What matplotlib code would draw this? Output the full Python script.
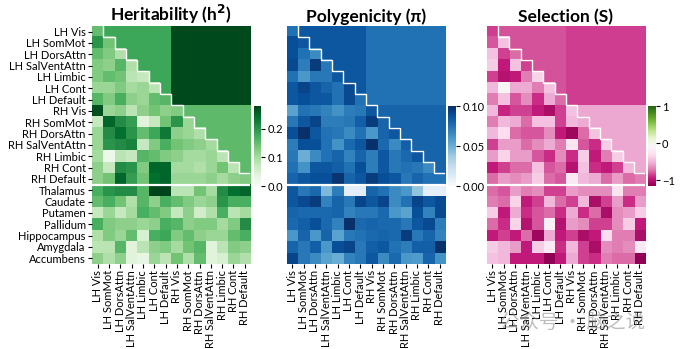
import matplotlib
matplotlib.use("Agg")
import matplotlib.pyplot as plt
import numpy as np

plt.rcParams['font.family'] = ['Lato', 'DejaVu Sans']

# ---- labels ----
cortex = ['LH Vis', 'LH SomMot', 'LH DorsAttn', 'LH SalVentAttn', 'LH Limbic', 'LH Cont', 'LH Default',
          'RH Vis', 'RH SomMot', 'RH DorsAttn', 'RH SalVentAttn', 'RH Limbic', 'RH Cont', 'RH Default']
subcortex = ['Thalamus', 'Caudate', 'Putamen', 'Pallidum', 'Hippocampus', 'Amygdala', 'Accumbens']
row_labels = cortex + subcortex

# ---- heritability (h2) ----
h2_blocks = {'LL': 0.18, 'LR': 0.275, 'RR': 0.155}
h2_cortex = [
    [0.15],
    [0.20, 0.14],
    [0.15, 0.13, 0.09],
    [0.13, 0.12, 0.16, 0.09],
    [0.13, 0.15, 0.14, 0.08, 0.07],
    [0.11, 0.11, 0.13, 0.10, 0.11, 0.08],
    [0.16, 0.13, 0.17, 0.12, 0.11, 0.15, 0.16],
    [0.27, 0.11, 0.12, 0.08, 0.12, 0.14, 0.12, 0.13],
    [0.07, 0.25, 0.21, 0.19, 0.04, 0.07, 0.14, 0.20, 0.11],
    [0.11, 0.21, 0.24, 0.20, 0.15, 0.18, 0.23, 0.12, 0.11, 0.09],
    [0.11, 0.20, 0.21, 0.22, 0.07, 0.13, 0.17, 0.14, 0.13, 0.12, 0.10],
    [0.10, 0.02, 0.08, 0.07, 0.16, 0.15, 0.13, 0.12, 0.10, 0.10, 0.11, 0.08],
    [0.12, 0.07, 0.21, 0.20, 0.13, 0.25, 0.25, 0.10, 0.10, 0.09, 0.11, 0.14, 0.08],
    [0.12, 0.14, 0.25, 0.19, 0.14, 0.24, 0.25, 0.11, 0.11, 0.11, 0.12, 0.10, 0.12, 0.13],
]
h2_sub = [
    [0.17, 0.20, 0.21, 0.21, 0.16, 0.28, 0.28, 0.08, 0.08, 0.14, 0.10, 0.21, 0.24, 0.25],
    [0.15, 0.17, 0.14, 0.09, 0.16, 0.12, 0.17, 0.15, 0.13, 0.11, 0.12, 0.20, 0.17, 0.17],
    [0.07, 0.11, 0.07, 0.10, 0.17, 0.15, 0.13, 0.07, 0.12, 0.06, 0.09, 0.17, 0.08, 0.10],
    [0.17, 0.13, 0.12, 0.12, 0.11, 0.12, 0.17, 0.16, 0.12, 0.13, 0.13, 0.10, 0.13, 0.21],
    [0.09, 0.13, 0.11, 0.15, 0.05, 0.17, 0.18, 0.13, 0.15, 0.12, 0.11, 0.11, 0.15, 0.17],
    [0.08, 0.08, 0.16, 0.04, 0.08, 0.12, 0.13, 0.10, 0.14, 0.16, 0.04, 0.08, 0.13, 0.12],
    [0.12, 0.09, 0.12, 0.04, 0.03, 0.11, 0.08, 0.14, 0.09, 0.15, 0.04, 0.05, 0.11, 0.09],
]

# ---- polygenicity (pi) ----
pi_blocks = {'LL': 0.085, 'LR': 0.075, 'RR': 0.080}
pi_cortex = [
    [0.075],
    [0.088, 0.085],
    [0.088, 0.075, 0.065],
    [0.090, 0.070, 0.095, 0.072],
    [0.075, 0.060, 0.072, 0.072, 0.085],
    [0.085, 0.092, 0.085, 0.080, 0.075, 0.090],
    [0.085, 0.088, 0.085, 0.085, 0.075, 0.090, 0.075],
    [0.055, 0.075, 0.072, 0.068, 0.062, 0.070, 0.072, 0.085],
    [0.072, 0.085, 0.092, 0.070, 0.070, 0.072, 0.082, 0.095, 0.080],
    [0.088, 0.100, 0.085, 0.075, 0.072, 0.065, 0.075, 0.060, 0.080, 0.085],
    [0.070, 0.088, 0.088, 0.075, 0.062, 0.078, 0.085, 0.100, 0.078, 0.065, 0.082],
    [0.072, 0.050, 0.065, 0.075, 0.080, 0.068, 0.080, 0.070, 0.085, 0.072, 0.078, 0.085],
    [0.075, 0.062, 0.085, 0.085, 0.082, 0.075, 0.088, 0.070, 0.085, 0.072, 0.075, 0.072, 0.065],
    [0.080, 0.085, 0.088, 0.088, 0.098, 0.080, 0.085, 0.095, 0.088, 0.085, 0.072, 0.080, 0.075, 0.075],
]
pi_sub = [
    [0.085, 0.072, 0.078, 0.045, 0.070, 0.010, 0.010, 0.080, 0.075, 0.065, 0.060, 0.040, 0.010, 0.010],
    [0.085, 0.090, 0.095, 0.068, 0.080, 0.072, 0.092, 0.085, 0.092, 0.065, 0.075, 0.092, 0.085, 0.090],
    [0.080, 0.078, 0.078, 0.078, 0.080, 0.068, 0.072, 0.072, 0.078, 0.060, 0.055, 0.088, 0.068, 0.090],
    [0.078, 0.082, 0.088, 0.078, 0.068, 0.100, 0.078, 0.080, 0.078, 0.078, 0.072, 0.085, 0.090, 0.070],
    [0.060, 0.080, 0.060, 0.080, 0.055, 0.072, 0.075, 0.078, 0.080, 0.078, 0.095, 0.072, 0.080, 0.068],
    [0.080, 0.072, 0.082, 0.060, 0.088, 0.092, 0.072, 0.082, 0.085, 0.075, 0.070, 0.082, 0.082, 0.100],
    [0.092, 0.072, 0.065, 0.055, 0.050, 0.068, 0.072, 0.085, 0.065, 0.078, 0.060, 0.058, 0.080, 0.062],
]

# ---- selection (S) ----
s_blocks = {'LL': -0.81, 'LR': -0.86, 'RR': -0.56}
s_cortex = [
    [-0.86],
    [-0.80, -0.45],
    [-0.45, -0.85, -0.75],
    [-0.40, -0.95, -0.45, -0.85],
    [-0.85, -1.00, -0.95, -0.70, -0.35],
    [-0.50, -0.10, -0.55, -0.55, -0.70, -0.45],
    [-0.70, -0.45, -0.80, -0.65, -0.90, -0.55, -0.75],
    [-0.50, -0.92, -0.85, -0.85, -0.95, -1.05, -0.85, -0.45],
    [-0.70, -0.50, -0.55, -0.75, -0.45, -0.45, -0.85, -0.50, -0.55],
    [-0.50, -0.30, -0.75, -0.80, -0.80, -0.65, -0.95, -1.10, -0.75, -0.45],
    [-0.85, -0.60, -0.60, -0.75, -0.65, -0.55, -0.70, -0.25, -0.80, -0.90, -0.40],
    [-0.60, -0.35, -0.60, -0.60, -0.80, -0.90, -0.65, -0.90, -0.40, -0.95, -0.70, -0.40],
    [-0.95, -0.85, -0.75, -0.75, -0.45, -0.80, -0.75, -1.00, -0.45, -0.90, -0.95, -0.85, -0.50],
    [-0.75, -0.60, -0.65, -0.60, -0.40, -0.75, -0.80, -0.20, -0.50, -0.55, -0.75, -0.60, -0.75, -0.70],
]
s_sub = [
    [-0.75, -0.80, -0.60, -0.70, -0.65, -0.85, -0.85, -0.60, -0.65, -0.65, -0.65, -0.25, -0.70, -0.70],
    [-0.70, -0.75, -0.35, -0.95, -0.85, -0.50, -0.75, -0.85, -0.50, -1.05, -0.85, -0.60, -0.90, -0.60],
    [-0.40, -0.95, -0.55, -0.90, -0.80, -0.75, -0.90, -0.55, -0.90, -0.75, -1.05, -0.65, -0.60, -0.40],
    [-0.75, -0.90, -0.35, -1.00, -0.80, -0.15, -1.00, -0.60, -0.65, -0.85, -0.85, -0.65, -0.40, -0.95],
    [-0.95, -0.85, -0.95, -0.75, -1.10, -0.55, -0.95, -0.85, -1.05, -0.95, -0.30, -0.70, -0.70, -1.05],
    [-0.40, -0.50, -0.60, -0.95, -0.40, -0.20, -0.90, -0.50, -0.85, -1.05, -0.65, -0.70, -0.65, -0.20],
    [-0.45, -0.50, -0.95, -0.95, -0.95, -1.15, -0.95, -0.55, -0.85, -0.90, -0.70, -0.75, -0.75, -1.15],
]


def build(lower, blocks, sub):
    n = len(cortex)
    M = np.zeros((n + len(sub), n))
    for i in range(n):
        for j in range(n):
            if j <= i:
                M[i, j] = lower[i][j]
            else:
                key = ('L' if i < 7 else 'R') + ('L' if j < 7 else 'R')
                M[i, j] = blocks[key]
    M[n:, :] = np.array(sub)
    return M


panels = [
    ('Heritability (h$^\\mathbf{2}$)', build(h2_cortex, h2_blocks, h2_sub), 'Greens', 0.0, 0.28,
     [0.0, 0.1, 0.2], ['0.0', '0.1', '0.2']),
    ('Polygenicity (\u03c0)', build(pi_cortex, pi_blocks, pi_sub), 'Blues', 0.0, 0.10,
     [0.0, 0.05, 0.10], ['0.00', '0.05', '0.10']),
    ('Selection (S)', build(s_cortex, s_blocks, s_sub), 'PiYG', -1.16, 1.0,
     [-1, 0, 1], ['\u22121', '0', '1']),
]

fig = plt.figure(figsize=(6.9, 3.49), dpi=100)
lefts = [0.1333, 0.4155, 0.7053]
aw, ab, ah = 0.2297, 0.2436, 0.682

n = len(cortex)
# staircase between lower cells and upper blocks
sx, sy = [0.5], [-0.5]
for k in range(n - 1):
    sy.append(k + 0.5)
    sx.append(k + 0.5)
    sx.append(k + 1.5)
    sy.append(k + 0.5)
sx = np.array(sx); sy = np.array(sy)

for p, (title, M, cmap, vmin, vmax, ticks, tlabels) in enumerate(panels):
    ax = fig.add_axes([lefts[p], ab, aw, ah])
    im = ax.imshow(M, cmap=cmap, vmin=vmin, vmax=vmax, aspect='auto', interpolation='nearest')
    ax.plot(sx, sy, color='white', lw=1.0, solid_joinstyle='miter')
    ax.axhline(n - 0.5, color='white', lw=1.6)
    ax.set_xlim(-0.5, n - 0.5)
    ax.set_ylim(len(row_labels) - 0.5, -0.5)
    for s in ax.spines.values():
        s.set_visible(False)
    ax.set_xticks(range(n))
    ax.set_xticklabels(cortex, rotation=90, fontsize=8)
    ax.tick_params(length=3, width=0.8, pad=1.5)
    if p == 0:
        ax.set_yticks(range(len(row_labels)))
        ax.set_yticklabels(row_labels, fontsize=8)
    else:
        ax.set_yticks([])
    ax.set_title(title, fontsize=12.5, fontweight='bold', pad=3)

    cax = fig.add_axes([lefts[p] + aw + 0.0045, 1 - 186 / 349, 0.011, 80 / 349])
    cb = fig.colorbar(im, cax=cax)
    cb.outline.set_visible(False)
    cb.set_ticks(ticks)
    cb.set_ticklabels(tlabels)
    cb.ax.tick_params(labelsize=8, length=3, width=0.8, pad=1.5)

# watermark
fig.text(0.83, 0.075, '\u516c\u4f17\u53f7 \u00b7 \u8111\u4e4b\u8bf4', fontsize=14, color='#888888', alpha=0.55,
         ha='center', va='center', family=['Noto Sans CJK SC', 'DejaVu Sans'])

fig.savefig('out.png', dpi=100)
